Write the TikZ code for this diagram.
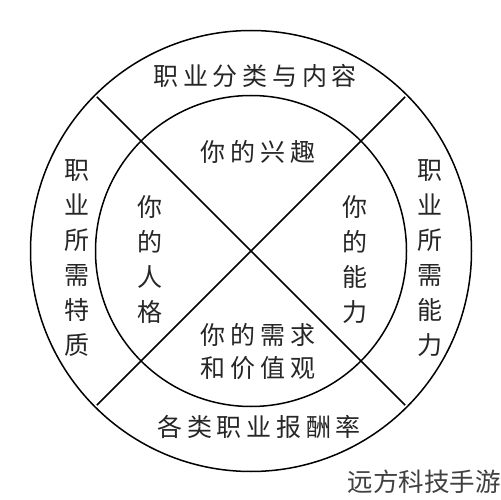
\documentclass[tikz,border=0pt]{standalone}
\usepackage{fontspec}
\newfontfamily\cjk{Noto Sans CJK SC}
\newfontfamily\cjkwm{Noto Sans CJK SC}
\tikzset{
  ring/.style={line width=1.5pt, draw=black},
  hlabel/.style={font=\cjk\fontsize{25}{25}\selectfont\addfontfeature{LetterSpace=19}, inner sep=0pt, text=black!85},
  vlabel/.style={font=\cjk\fontsize{25}{35}\selectfont, align=center, inner sep=0pt, text=black!85},
  wmark/.style={font=\cjkwm\fontsize{25.5}{25.5}\selectfont, inner sep=0pt, text=black!75}
}
\begin{document}
\begin{tikzpicture}[x=1pt,y=-1pt]
\useasboundingbox (0,0) rectangle (501,500);
\fill[white] (0,0) rectangle (501,500);
\coordinate (c) at (251,251);
\draw[ring] (c) circle[radius=220.5];
\draw[ring] (c) circle[radius=155.5];
\draw[ring] (c) ++(135:218) -- ++(-45:436);
\draw[ring] (c) ++(45:218) -- ++(225:436);
\node[hlabel] (top) at (255,76) {职业分类与内容};
\node[hlabel] (interest) at (258,152) {你的兴趣};
\node[vlabel] (lout) at (77,258) {职\\业\\所\\需\\特\\质};
\node[vlabel] (rout) at (430,258) {职\\业\\所\\需\\能\\力};
\node[vlabel] (pers) at (150,260) {你\\的\\人\\格};
\node[vlabel] (abil) at (355,260) {你\\的\\能\\力};
\node[hlabel] (need1) at (258,335) {你的需求};
\node[hlabel] (need2) at (258,368) {和价值观};
\node[hlabel] (bottom) at (259,427) {各类职业报酬率};
\node[wmark, anchor=east] (wm) at (501,482) {远方科技手游};
\end{tikzpicture}
\end{document}
